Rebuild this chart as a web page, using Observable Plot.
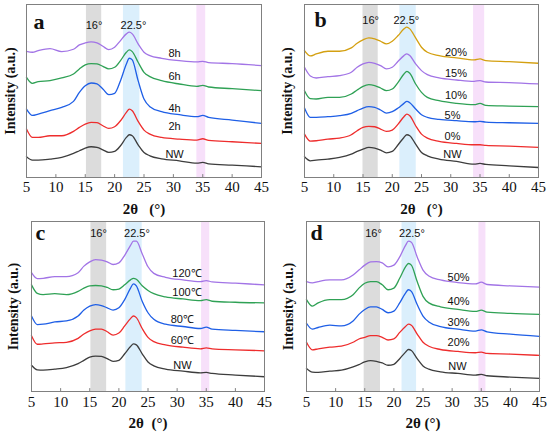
<!DOCTYPE html>
<html>
<head>
<meta charset="utf-8">
<script src="https://cdn.jsdelivr.net/npm/d3@7"></script>
<script src="https://cdn.jsdelivr.net/npm/@observablehq/plot@0.6"></script>
<style>
  html, body { margin: 0; padding: 0; background: #fff; }
  #wrap { position: relative; width: 550px; height: 435px; overflow: hidden; }
  .panel { position: absolute; }
  .panel svg { background: transparent; }
</style>
</head>
<body>
<div id="wrap"></div>
<script>
// ---------- data ----------
const twoTheta = [5, 6, 7, 9, 11, 13, 14, 15, 16, 17, 18, 19, 20, 21, 22, 22.5, 23, 24, 25, 26, 28, 31, 34, 35, 36, 40, 45];
const xTicks = [5, 10, 15, 20, 25, 30, 35, 40, 45];

// panel a (reaction time)
const aNames = ["NW", "2h", "4h", "6h", "8h"];
const aNW = [62, 52, 52, 55, 60, 72, 80, 88, 92, 90, 83, 75, 78, 95, 120, 128, 125, 98, 75, 65, 56, 50, 43, 45, 41, 37, 32];
const a2h = [145, 120, 120, 125, 125, 138, 150, 160, 165, 164, 155, 147, 152, 170, 195, 205, 200, 168, 142, 130, 120, 115, 112, 116, 111, 107, 102];
const a4h = [205, 186, 190, 200, 210, 228, 255, 275, 283, 280, 265, 248, 252, 290, 340, 357, 352, 290, 235, 212, 197, 188, 182, 186, 180, 172, 162];
const a6h = [300, 282, 287, 290, 298, 310, 325, 337, 341, 340, 333, 325, 330, 350, 375, 382, 377, 345, 315, 302, 290, 280, 273, 276, 271, 266, 260];
const a8h = [378, 375, 380, 386, 377, 384, 397, 403, 406, 403, 393, 383, 390, 410, 430, 435, 430, 400, 375, 365, 357, 350, 346, 348, 344, 341, 335];
const aLabelX = [30.2, 30.2, 30.2, 30.2, 30.2];
const aLabelY = [68, 152, 208, 302, 370];
const aBands = [[15.2, 17.8], [21.5, 24.3], [34.0, 35.5]];

// panel b (concentration)
const bNames = ["NW", "0%", "5%", "10%", "15%", "20%"];
const bNW = [62, 50, 52, 55, 60, 70, 78, 85, 90, 88, 82, 74, 78, 98, 120, 128, 125, 100, 75, 65, 55, 48, 40, 42, 39, 35, 30];
const b0 = [130, 109, 110, 115, 118, 128, 140, 150, 153, 152, 145, 138, 142, 160, 182, 190, 185, 155, 130, 118, 108, 102, 98, 98, 96, 94, 90];
const b5 = [208, 180, 180, 182, 185, 192, 200, 208, 212, 210, 202, 193, 197, 208, 222, 228, 224, 205, 188, 180, 174, 170, 167, 168, 166, 164, 162];
const b10 = [260, 236, 235, 240, 240, 250, 262, 273, 278, 275, 268, 260, 265, 285, 310, 318, 312, 280, 255, 240, 230, 222, 218, 222, 216, 214, 212];
const b15 = [330, 304, 298, 302, 305, 315, 330, 340, 345, 342, 335, 325, 330, 348, 365, 370, 365, 340, 320, 308, 298, 292, 288, 290, 286, 284, 280];
const b20 = [380, 364, 370, 378, 378, 388, 402, 412, 418, 415, 408, 400, 408, 425, 445, 450, 445, 418, 390, 375, 365, 358, 352, 355, 350, 347, 342];
const bLabelX = [30.3, 30.3, 30.3, 30.9, 30.9, 30.9];
const bLabelY = [68, 122, 185, 245, 310, 375];
const bBands = [[15.0, 17.6], [21.3, 24.1], [33.9, 35.8]];

// panel c (temperature)
const cNames = ["NW", "60℃", "80℃", "100℃", "120℃"];
const cNW = [80, 66, 65, 68, 73, 85, 95, 105, 108, 107, 100, 92, 95, 115, 137, 145, 142, 115, 90, 78, 68, 62, 57, 58, 55, 50, 45];
const c60 = [170, 144, 145, 148, 150, 162, 175, 185, 190, 190, 182, 172, 178, 200, 222, 230, 225, 192, 165, 152, 142, 135, 130, 133, 130, 127, 124];
const c80 = [230, 204, 205, 212, 215, 230, 248, 260, 265, 262, 255, 248, 255, 280, 315, 328, 322, 275, 240, 220, 205, 198, 192, 196, 190, 186, 182];
const c100 = [325, 299, 295, 298, 295, 305, 315, 322, 323, 322, 317, 310, 312, 325, 340, 345, 342, 322, 308, 298, 288, 282, 277, 280, 275, 272, 270];
const c120 = [362, 344, 345, 350, 350, 362, 382, 395, 402, 400, 395, 387, 392, 415, 445, 458, 458, 420, 380, 360, 348, 340, 335, 338, 334, 330, 325];
const cLabelX = [30.9, 30.9, 30.9, 31.7, 31.7];
const cLabelY = [80, 155, 220, 302, 360];
const cBands = [[15.2, 17.9], [21.2, 24.0], [34.2, 35.6]];

// panel d (ratio)
const dNames = ["NW", "20%", "30%", "40%", "50%"];
const dNW = [70, 59, 58, 62, 65, 75, 82, 90, 94, 92, 87, 80, 83, 100, 120, 128, 125, 100, 78, 68, 60, 55, 50, 52, 48, 44, 40];
const d20 = [150, 127, 130, 135, 138, 150, 160, 165, 170, 170, 165, 157, 160, 180, 198, 205, 202, 175, 150, 138, 128, 122, 118, 120, 116, 114, 110];
const d30 = [208, 190, 195, 202, 200, 215, 235, 250, 258, 258, 250, 240, 245, 270, 300, 310, 305, 265, 230, 212, 198, 190, 184, 188, 182, 175, 168];
const d40 = [280, 260, 270, 280, 280, 295, 315, 330, 335, 335, 325, 310, 315, 345, 380, 390, 385, 335, 290, 270, 258, 250, 244, 248, 242, 238, 235];
const d50 = [335, 331, 335, 340, 340, 355, 370, 385, 395, 396, 392, 380, 385, 410, 445, 458, 455, 410, 370, 352, 340, 332, 328, 333, 326, 322, 318];
const dLabelX = [30.9, 31.1, 31.1, 31.1, 31.1];
const dLabelY = [77, 148, 210, 275, 348];
const dBands = [[14.9, 17.7], [21.4, 23.9], [34.6, 35.8]];

const peakNames = ["16°", "22.5°"];

// ---------- styling ----------
const serif = "'Liberation Serif', 'Times New Roman', serif";
const sans = "'Liberation Sans', Arial, sans-serif";
const seriesColors = ["#3d3d3d", "#ee2d2d", "#1f5fe6", "#2fa155", "#a274e6", "#d4a011"];
const bandColors = ["#dcdcdc", "#dbeffc", "#f7e0fa"];
const tickShape = {draw(context, l) { context.moveTo(0, 0); context.lineTo(0, -l); }};

function panel(cfg) {
  const rows = [];
  cfg.series.forEach((vals, i) => {
    vals.forEach((v, j) => rows.push({x: twoTheta[j], y: v, s: cfg.names[i]}));
  });
  const labels = cfg.names.map((n, i) => ({name: n, x: cfg.labelX[i], y: cfg.labelY[i]}));
  const bands = cfg.bands.map((b, i) => ({x1: b[0], x2: b[1], c: bandColors[i]}));
  const peaks = peakNames.map((p, i) => ({name: p, x: cfg.peakX[i]}));
  return Plot.plot({
    width: 275, height: cfg.height,
    marginLeft: cfg.ml, marginRight: cfg.mr, marginTop: cfg.mt, marginBottom: cfg.mb,
    style: {background: "transparent", overflow: "visible", fontFamily: serif},
    x: {domain: [5, 45], axis: null},
    y: {domain: [0, 518], axis: null},
    color: {domain: cfg.names, range: seriesColors.slice(0, cfg.names.length)},
    marks: [
      Plot.rect(bands, {x1: "x1", x2: "x2", fill: "c"}),
      Plot.line(rows, {x: "x", y: "y", z: "s", stroke: "s", strokeWidth: 1.3, curve: "monotone-x"}),
      Plot.frame({stroke: "#808080", strokeWidth: 1}),
      Plot.vector(xTicks, {x: d => d, frameAnchor: "bottom", length: 3, rotate: 0, anchor: "start", shape: tickShape, stroke: "#808080", strokeWidth: 1}),
      Plot.text(xTicks, {x: d => d, frameAnchor: "bottom", dy: cfg.tickPad, text: d => String(d), fontSize: 15, fontFamily: serif, fill: "#111", textAnchor: "middle", lineAnchor: "top"}),
      Plot.text(labels, {x: "x", y: "y", text: "name", fontSize: 11, fontFamily: sans, fill: "#111", textAnchor: "middle"}),
      Plot.text(peaks, {x: "x", frameAnchor: "top", dy: cfg.peakDy, text: "name", fontSize: 11, fontFamily: sans, fill: "#111", textAnchor: "middle", lineAnchor: "middle"}),
      Plot.text([cfg.letter], {frameAnchor: "top-left", dx: cfg.letterDx, dy: cfg.letterDy, text: d => d, fontSize: 22, fontWeight: "bold", fontFamily: serif, fill: "#111", textAnchor: "start", lineAnchor: "bottom"}),
      Plot.text(["Intensity (a.u.)"], {frameAnchor: "left", dx: -cfg.yLabDx, text: d => d, rotate: -90, fontSize: 14, fontWeight: "bold", fontFamily: serif, fill: "#111", textAnchor: "middle", lineAnchor: "middle"}),
      Plot.text([cfg.xLabel], {frameAnchor: "bottom", dy: cfg.xLabDy, text: d => d, fontSize: 15, fontWeight: "bold", fontFamily: serif, fill: "#111", textAnchor: "middle", lineAnchor: "middle"})
    ]
  });
}

const panels = [
  {left: 0, top: 0, height: 218, ml: 26, mr: 14, mt: 4, mb: 41, tickPad: 4, letter: "a", letterDx: 7, letterDy: 24,
   names: aNames, series: [aNW, a2h, a4h, a6h, a8h], labelX: aLabelX, labelY: aLabelY, bands: aBands, peakX: [16.5, 23.2], peakDy: 21,
   yLabDx: 16, xLabel: "2θ\u00a0\u00a0\u00a0(°)", xLabDy: 32},
  {left: 275, top: 0, height: 218, ml: 29, mr: 12, mt: 4, mb: 41, tickPad: 4, letter: "b", letterDx: 10, letterDy: 22,
   names: bNames, series: [bNW, b0, b5, b10, b15, b20], labelX: bLabelX, labelY: bLabelY, bands: bBands, peakX: [16.3, 22.4], peakDy: 16,
   yLabDx: 17, xLabel: "2θ\u00a0\u00a0\u00a0(°)", xLabDy: 32},
  {left: 0, top: 218, height: 217, ml: 31, mr: 11, mt: 3, mb: 44, tickPad: 5, letter: "c", letterDx: 4, letterDy: 18,
   names: cNames, series: [cNW, c60, c80, c100, c120], labelX: cLabelX, labelY: cLabelY, bands: cBands, peakX: [16.5, 23.1], peakDy: 12,
   yLabDx: 18, xLabel: "2θ\u00a0\u00a0(°)", xLabDy: 32},
  {left: 275, top: 218, height: 217, ml: 31, mr: 11, mt: 3, mb: 44, tickPad: 5, letter: "d", letterDx: 4, letterDy: 18,
   names: dNames, series: [dNW, d20, d30, d40, d50], labelX: dLabelX, labelY: dLabelY, bands: dBands, peakX: [16.5, 23.1], peakDy: 12,
   yLabDx: 18, xLabel: "2θ (°)", xLabDy: 32}
];

const wrap = document.getElementById("wrap");
for (const cfg of panels) {
  const div = document.createElement("div");
  div.className = "panel";
  div.style.left = cfg.left + "px";
  div.style.top = cfg.top + "px";
  div.appendChild(panel(cfg));
  wrap.appendChild(div);
}
</script>
</body>
</html>
